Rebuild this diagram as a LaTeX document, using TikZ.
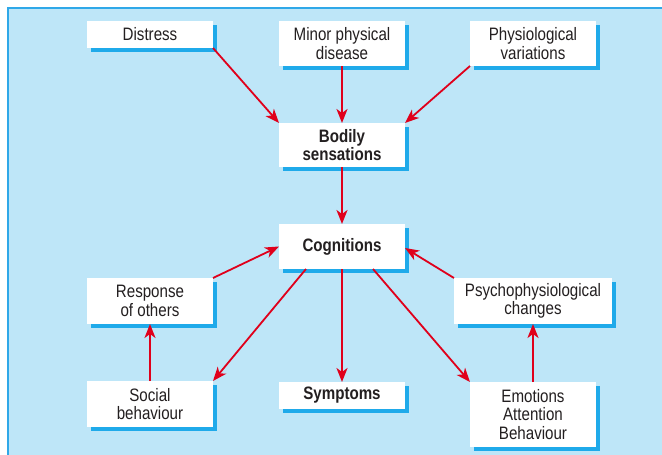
\documentclass[tikz,border=0pt]{standalone}
\usepackage{fontspec}
\setmainfont{Liberation Sans}[FakeStretch=0.84]
\usetikzlibrary{arrows.meta,shadows}
\definecolor{panel}{HTML}{BEE6F8}
\definecolor{panelline}{HTML}{2FA8E8}
\definecolor{shadowblue}{HTML}{1FAAEA}
\definecolor{arrowred}{HTML}{E0001B}
\definecolor{textc}{HTML}{231F20}
\tikzset{
  box/.style={fill=white, inner sep=0pt, outer sep=0pt, align=center,
    text=textc, font=\fontsize{18}{18.3}\selectfont,
    general shadow={fill=shadowblue, shadow xshift=4pt, shadow yshift=-4pt}},
  arr/.style={draw=arrowred, line width=1.8pt,
    -{Stealth[length=14pt,width=11pt,inset=4pt]}}
}
\begin{document}
\begin{tikzpicture}[x=1pt,y=-1pt]
\useasboundingbox (0,0) rectangle (662,455);
\fill[white] (0,0) rectangle (662,455);
\fill[panel] (8,8) rectangle (662,455);
\draw[panelline, line width=1.5pt] (8,455) -- (8,8) -- (662,8);

\node[box, minimum width=126pt, minimum height=27pt] (distress) at (150,34.5) {Distress};
\node[box, minimum width=126pt, minimum height=45pt] (minor) at (342,43.5) {Minor physical\\disease};
\node[box, minimum width=126pt, minimum height=45pt] (physvar) at (533,43.5) {Physiological\\variations};
\node[box, minimum width=126pt, minimum height=44pt] (bodily) at (342,145) {\bfseries Bodily\\\bfseries sensations};
\node[box, minimum width=126pt, minimum height=45pt] (cog) at (342,246.5) {\bfseries Cognitions};
\node[box, minimum width=126pt, minimum height=46pt] (resp) at (150,301) {Response\\of others};
\node[box, minimum width=126pt, minimum height=46pt] (social) at (150,404) {Social\\behaviour};
\node[box, minimum width=126pt, minimum height=27pt] (symp) at (342,395.5) {\bfseries Symptoms};
\node[box, minimum width=158pt, minimum height=46pt] (psych) at (533,301) {Psychophysiological\\changes};
\node[box, minimum width=126pt, minimum height=65pt] (emo) at (533,414.5) {Emotions\\Attention\\Behaviour};

\draw[arr] (distress.south east) -- (bodily.north west);
\draw[arr] (minor.south) -- (bodily.north);
\draw[arr] (physvar.south west) -- (bodily.north east);
\draw[arr] (bodily.south) -- (cog.north);
\draw[arr] (resp.north east) -- (cog.west);
\draw[arr] (psych.north west) -- ([yshift=-1.5pt]cog.east);
\draw[arr] ([xshift=-36pt]cog.south) -- (social.north east);
\draw[arr] (cog.south) -- (symp.north);
\draw[arr] ([xshift=31pt]cog.south) -- (emo.north west);
\draw[arr] (social.north) -- (resp.south);
\draw[arr] (emo.north) -- (psych.south);
\end{tikzpicture}
\end{document}
